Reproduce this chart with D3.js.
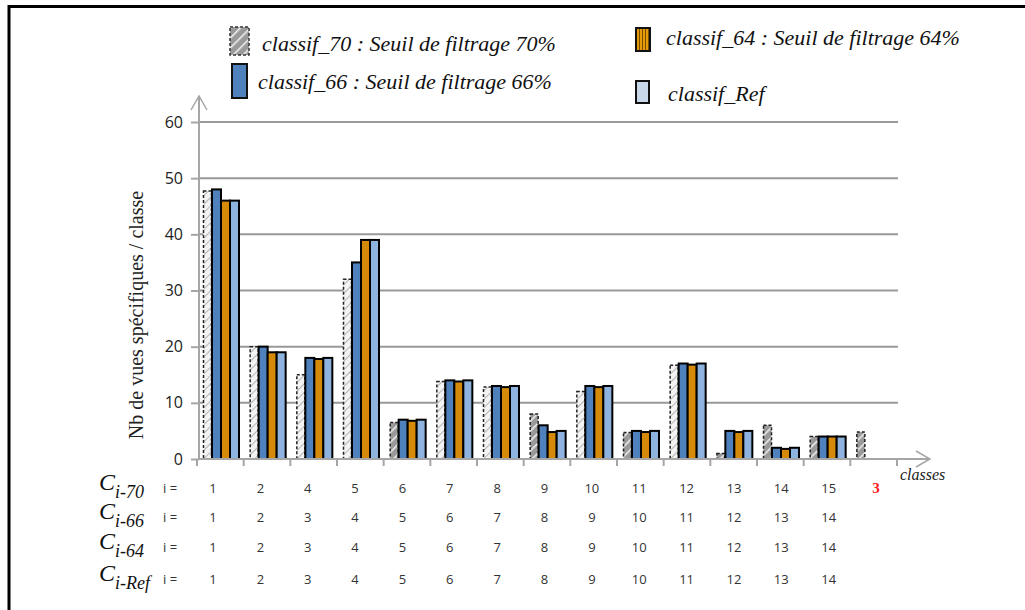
<!DOCTYPE html>
<html><head><meta charset="utf-8">
<script src="https://cdn.jsdelivr.net/npm/d3@7"></script>
<style>html,body{margin:0;padding:0;background:#fff;overflow:hidden}</style>
</head><body>
<svg id="chart" width="1025" height="610"></svg>
<script>
// ---------- data ----------
const labels70 = ["1","2","4","5","6","7","8","9","10","11","12","13","14","15","3"];
const labels66 = ["1","2","3","4","5","6","7","8","9","10","11","12","13","14"];
const labels64 = ["1","2","3","4","5","6","7","8","9","10","11","12","13","14"];
const labelsRef = ["1","2","3","4","5","6","7","8","9","10","11","12","13","14"];
const values70 = [47.7,20,15,32,6.5,13.8,12.8,8,12,4.7,16.7,1,6,4,4.8];
const values66 = [48,20,18,35,7,14,13,6,13,5,17,5,2,4];
const values64 = [46,19,17.8,39,6.8,13.8,12.8,4.8,12.8,4.8,16.8,4.8,1.8,4];
const valuesRef = [46,19,18,39,7,14,13,5,13,5,17,5,2,4];
const yTicks = [0,10,20,30,40,50,60];
const seriesKeys = ["70","66","64","Ref"];
const legendLabels = ["classif_70 : Seuil de filtrage 70%","classif_64 : Seuil de filtrage 64%","classif_66 : Seuil de filtrage 66%","classif_Ref"];
const rowNames = ["70","66","64","Ref"];

const SERIF = "'Liberation Serif', 'Times New Roman', serif";
const SANS = "'Open Sans', 'DejaVu Sans', sans-serif";

// ---------- setup ----------
const svg = d3.select("#chart");
const defs = svg.append("defs");
const p70 = defs.append("pattern").attr("id","hatch70").attr("patternUnits","userSpaceOnUse")
  .attr("width",6).attr("height",6).attr("patternTransform","rotate(45)");
p70.append("rect").attr("width",6).attr("height",6).attr("fill","#f3f3f3");
p70.append("line").attr("x1",0).attr("y1",0).attr("x2",0).attr("y2",6).attr("stroke","#b5b5b5").attr("stroke-width",2);
const p70L = defs.append("pattern").attr("id","hatch70L").attr("patternUnits","userSpaceOnUse")
  .attr("width",7).attr("height",7).attr("patternTransform","rotate(45)");
p70L.append("rect").attr("width",7).attr("height",7).attr("fill","#9a9a9a");
p70L.append("line").attr("x1",0).attr("y1",0).attr("x2",0).attr("y2",7).attr("stroke","#f0f0f0").attr("stroke-width",3);
const p64 = defs.append("pattern").attr("id","stripe64").attr("patternUnits","userSpaceOnUse")
  .attr("width",3).attr("height",3);
p64.append("rect").attr("width",3).attr("height",3).attr("fill","#e59a0a");
p64.append("line").attr("x1",0.5).attr("y1",0).attr("x2",0.5).attr("y2",3).attr("stroke","#7a4d00").attr("stroke-width",1);

// frame
svg.append("line").attr("x1",8).attr("x2",1025).attr("y1",6.5).attr("y2",6.5).attr("stroke","#000").attr("stroke-width",3);
svg.append("line").attr("x1",9).attr("x2",9).attr("y1",5).attr("y2",610).attr("stroke","#000").attr("stroke-width",3);

// scales
const x = d3.scaleBand().domain(d3.range(15)).range([197,897]).padding(0);
const sub = d3.scaleBand().domain(seriesKeys).range([6,42]);
const y = d3.scaleLinear().domain([0,60]).range([459,122]);
const axisGray = "#a6a6a6";

// gridlines
svg.append("g").selectAll("line").data(yTicks.filter(d=>d>0)).join("line")
  .attr("x1",199).attr("x2",898).attr("y1",d=>y(d)).attr("y2",d=>y(d))
  .attr("stroke","#999").attr("stroke-width",2);

// y axis
const yAxis = svg.append("g").attr("transform","translate(199,0)")
  .call(d3.axisLeft(y).tickValues(yTicks).tickSize(8).tickPadding(8));
yAxis.select(".domain").remove();
yAxis.selectAll(".tick line").attr("stroke",axisGray).attr("stroke-width",2);
yAxis.selectAll(".tick text").attr("font-family",SANS).attr("font-size",16).attr("fill","#222");
svg.append("line").attr("x1",199).attr("x2",199).attr("y1",460).attr("y2",96).attr("stroke",axisGray).attr("stroke-width",2);
svg.append("path").attr("d","M191,110 L199,96 L207,110").attr("fill","none").attr("stroke",axisGray).attr("stroke-width",1.5);

// bars 70
const bars = svg.append("g");
bars.selectAll("rect.b70").data(values70).join("rect").attr("class","b70")
  .attr("x",(d,i)=>x(i)+sub("70")+0.5).attr("width",sub.bandwidth()-1)
  .attr("y",d=>y(d)).attr("height",d=>y(0)-y(d))
  .attr("fill",(d,i)=> (y(0)-y(d))<50 ? "url(#hatch70L)" : "url(#hatch70)")
  .attr("stroke","#222").attr("stroke-width",1.5).attr("stroke-dasharray","3,2");
const seriesDefs = [["66",values66,"#4f81bd"],["64",values64,"#d68a09"],["Ref",valuesRef,"#8db3de"]];
seriesDefs.forEach(([k,vals,col])=>{
  bars.selectAll("rect.b"+k).data(vals).join("rect").attr("class","b"+k)
    .attr("x",(d,i)=>x(i)+sub(k)).attr("width",sub.bandwidth())
    .attr("y",d=>y(d)).attr("height",d=>y(0)-y(d))
    .attr("fill",col).attr("stroke","#000").attr("stroke-width",2);
});

// x axis
svg.append("line").attr("x1",199).attr("x2",930).attr("y1",459).attr("y2",459).attr("stroke",axisGray).attr("stroke-width",2);
svg.append("path").attr("d","M916,451 L930,459 L916,467").attr("fill","none").attr("stroke",axisGray).attr("stroke-width",1.5);
svg.append("g").selectAll("line").data(d3.range(16)).join("line")
  .attr("x1",d=>197+d*x.bandwidth()).attr("x2",d=>197+d*x.bandwidth())
  .attr("y1",459).attr("y2",466).attr("stroke",axisGray).attr("stroke-width",2);
svg.append("text").attr("x",900).attr("y",480).text("classes")
  .attr("font-family",SERIF).attr("font-style","italic").attr("font-size",16).attr("fill","#222");

// y title
svg.append("text").attr("transform","translate(143,315) rotate(-90)").attr("text-anchor","middle")
  .text("Nb de vues spécifiques / classe")
  .attr("font-family",SERIF).attr("font-size",20).attr("fill","#222");

// class table
const lx = d3.scalePoint().domain(d3.range(15)).range([213,876]);
const rowsData = [labels70,labels66,labels64,labelsRef];
const rowY = [493,522,552,584];
rowsData.forEach((labs,r)=>{
  const g = svg.append("g");
  g.selectAll("text").data(labs).join("text")
    .attr("x",(d,i)=>lx(i)).attr("y",rowY[r]).attr("text-anchor","middle")
    .attr("font-family", (d,i)=> (r===0&&i===14) ? SERIF : SANS)
    .attr("font-weight",(d,i)=> (r===0&&i===14) ? "bold" : "normal")
    .attr("font-size",(d,i)=> (r===0&&i===14) ? 15 : 13)
    .attr("fill",(d,i)=> (r===0&&i===14) ? "#ff1a1a" : "#333")
    .text(d=>d);
  g.append("text").attr("x",163).attr("y",rowY[r]).text("i =")
    .attr("font-family",SANS).attr("font-size",13).attr("fill","#333");
  const t = g.append("text").attr("x",99).attr("y",rowY[r]-3)
    .attr("font-family",SERIF).attr("font-style","italic").attr("fill","#111");
  t.append("tspan").attr("font-size",24).text("C");
  t.append("tspan").attr("font-size",18).attr("dy",8).text("i-"+rowNames[r]);
});

// legend
const lg = svg.append("g");
const legItems = [
  {x:230,y:27,w:19,h:28,fill:"url(#hatch70L)",dash:true,tx:262,ty:51,label:legendLabels[0]},
  {x:636,y:28,w:14,h:23,fill:"url(#stripe64)",dash:false,tx:666,ty:45,label:legendLabels[1]},
  {x:232,y:64,w:15,h:34,fill:"#4f81bd",dash:false,tx:258,ty:89,label:legendLabels[2]},
  {x:636,y:81,w:13,h:22,fill:"#c8d8ea",dash:false,tx:668,ty:101,label:legendLabels[3]}
];
legItems.forEach(it=>{
  lg.append("rect").attr("x",it.x).attr("y",it.y).attr("width",it.w).attr("height",it.h)
    .attr("fill",it.fill).attr("stroke",it.dash?"#333":"#111").attr("stroke-width",it.dash?1.5:2)
    .attr("stroke-dasharray",it.dash?"3,2":null);
  lg.append("text").attr("x",it.tx).attr("y",it.ty).text(it.label)
    .attr("font-family",SERIF).attr("font-style","italic").attr("font-size",22).attr("fill","#111");
});
</script>
</body></html>
